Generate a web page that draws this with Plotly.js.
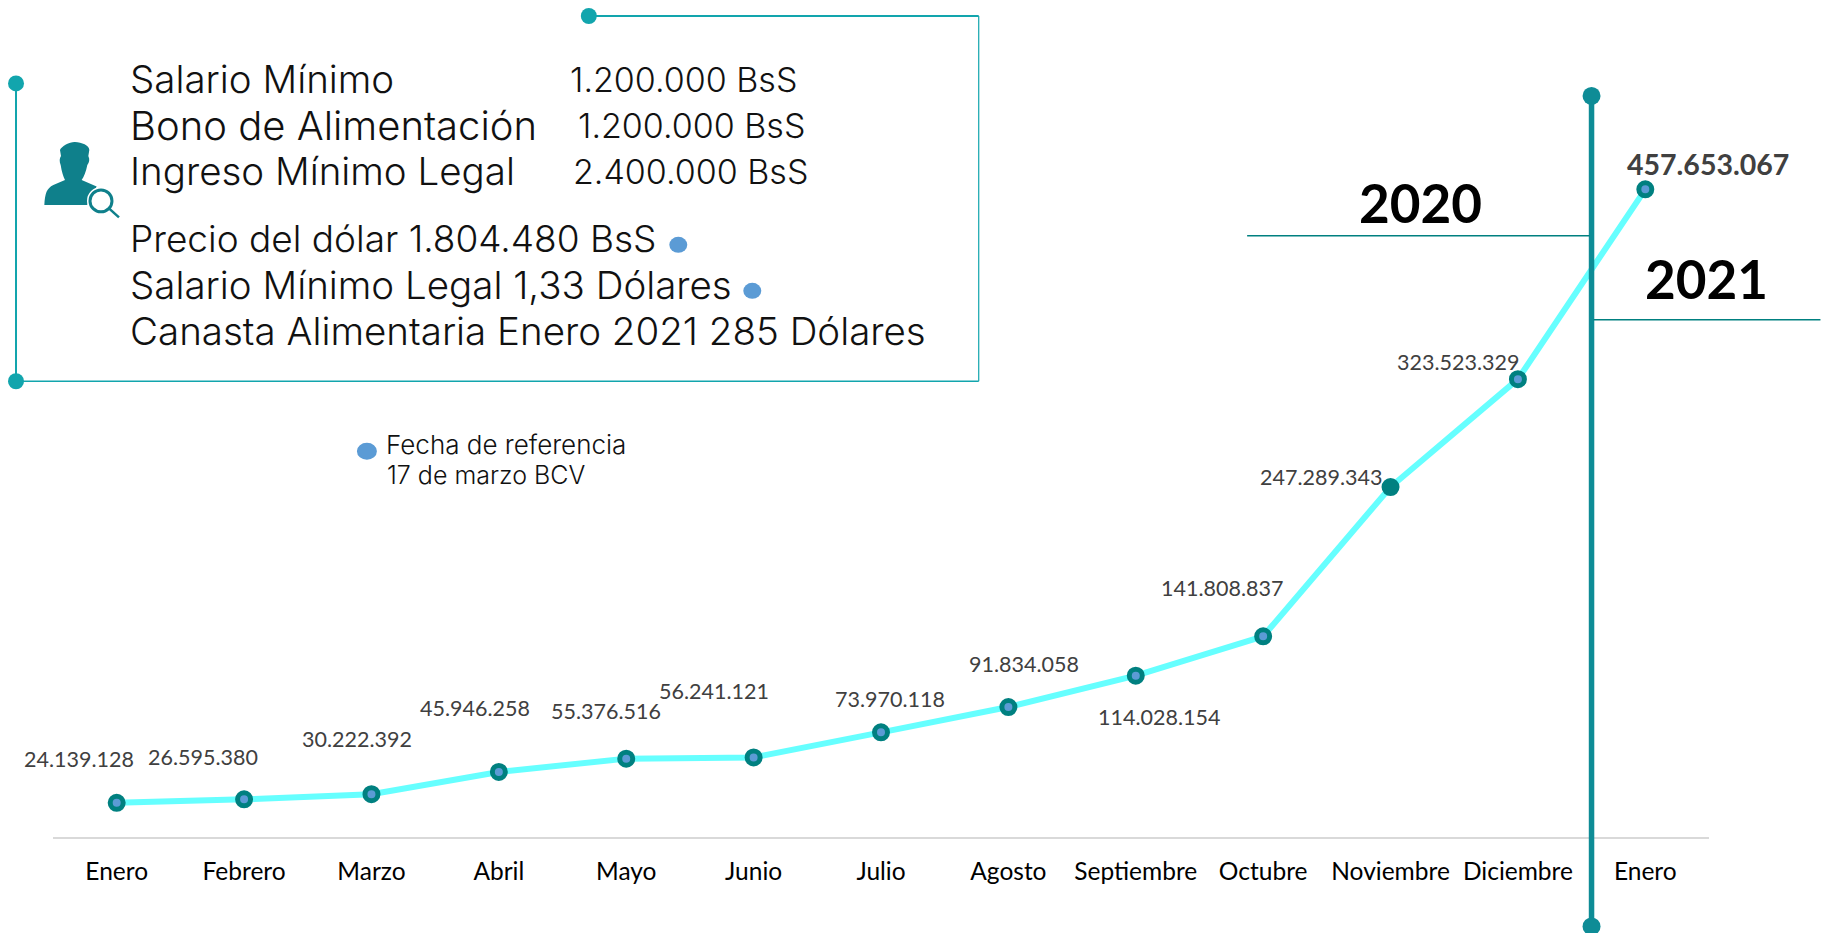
<!DOCTYPE html>
<html>
<head>
<meta charset="utf-8">
<script src="https://cdn.plot.ly/plotly-3.0.1.min.js"></script>
<style>html,body{margin:0;padding:0;background:#fff;overflow:hidden}#chart{width:1821px;height:933px}</style>
</head>
<body>
<div id="chart"></div>
<script>
const months = ["Enero","Febrero","Marzo","Abril","Mayo","Junio","Julio","Agosto","Septiembre","Octubre","Noviembre","Diciembre","Enero"];
const values = [24139128,26595380,30222392,45946258,55376516,56241121,73970118,91834058,114028154,141808837,247289343,323523329,457653067];
const valueLabels = ["24.139.128","26.595.380","30.222.392","45.946.258","55.376.516","56.241.121","73.970.118","91.834.058","114.028.154","141.808.837","247.289.343","323.523.329","457.653.067"];
const labelDx = [-38,-41,-14.5,-24,-20,-39.5,9,16,23,-41,-70,-60,63];
const labelDy = [43.5,42,55,64,48,66,33,43.5,-41,48,10,17,25.5];

const W=1821,H=933,ML=53,MR=111.5,AX=837.5;
const PW=W-ML-MR;
const px=x=>(x-ML)/PW, py=y=>(AX-y)/AX;
const TEAL="#12a5ad", BAR="#0e8c96", DK="#008080", BLUE="#5b9bd5", ICON="#0f808b";

const shapes=[];
const line=(x0,y0,x1,y1,c,w)=>shapes.push({type:"line",xref:"paper",yref:"paper",x0:px(x0),y0:py(y0),x1:px(x1),y1:py(y1),line:{color:c,width:w}});
const oval=(cx,cy,rx,ry,c)=>shapes.push({type:"circle",xref:"paper",yref:"paper",x0:px(cx-rx),x1:px(cx+rx),y0:py(cy-ry),y1:py(cy+ry),fillcolor:c,line:{width:0}});

// information box
line(589,16,979,16,TEAL,2); line(979,16,979,381.5,TEAL,1.2);
line(16,381.5,979,381.5,TEAL,1.5); line(16,83.5,16,381.5,TEAL,2);
oval(589,16,8,8,TEAL); oval(16,83.5,8,8,TEAL); oval(16,381.5,8,8,TEAL);
// reference dots
oval(678.5,245,9,8,BLUE); oval(752.5,291,9,8,BLUE); oval(367,451.5,10,8.5,BLUE);
// year divider
line(1592,96,1592,927,BAR,5.5); oval(1592,96,9,9,BAR); oval(1592,927,9,9,BAR);
line(1247.5,236,1590,236,DK,1.5); line(1594,320,1821,320,DK,1.5);

// person icon, traced in the coordinates of a 3x crop at (30,130)
const Z=(a,b)=>`${px(30+a/3)},${py(130+b/3)}`;
const personPts=[["M",[43,225]],["C",[45,190],[50,175],[70,165]],["L",[105,150]],["C",[100,140],[95,125],[92,105]],
 ["C",[88,95],[88,85],[93,78]],["L",[90,60]],["C",[95,48],[120,35],[135,36]],["C",[155,38],[178,45],[178,60]],["L",[175,78]],
 ["C",[180,88],[178,98],[172,105]],["C",[168,125],[162,140],[155,150]],["L",[200,170]],["L",[172,225]]];
const personPath=personPts.map(p=>p[0]+p.slice(1).map(q=>Z(q[0],q[1])).join(" ")).join(" ")+" Z";
shapes.push({type:"path",xref:"paper",yref:"paper",path:personPath,fillcolor:ICON,line:{width:0}});
oval(101,201,14,14,"#ffffff");
shapes.push({type:"circle",xref:"paper",yref:"paper",x0:px(90),x1:px(112),y0:py(190),y1:py(212),fillcolor:"#ffffff",line:{color:ICON,width:3}});
line(109.5,209,119,217.5,ICON,2.5);

const BOX_FONT="Inter", LABEL_SIZE=38.5, AMOUNT_SIZE=34;
const ann=[];
const txt=(x,y,t,size,opts={})=>ann.push(Object.assign({xref:"paper",yref:"paper",x:px(x),y:py(y),text:t,showarrow:false,xanchor:"left",yanchor:"middle",font:{family:BOX_FONT,size:size,color:"#111111",weight:300}},opts));
txt(128,79,"Salario Mínimo",LABEL_SIZE); txt(568,80,"1.200.000 BsS",AMOUNT_SIZE);
txt(128,126,"Bono de Alimentación",40); txt(576,126,"1.200.000 BsS",AMOUNT_SIZE);
txt(128,171,"Ingreso Mínimo Legal",LABEL_SIZE); txt(571,172,"2.400.000 BsS",AMOUNT_SIZE);
txt(128,239,"Precio del dólar 1.804.480 BsS",37);
txt(128,285,"Salario Mínimo Legal 1,33 Dólares",LABEL_SIZE);
txt(128,331,"Canasta Alimentaria Enero 2021 285 Dólares",LABEL_SIZE);
txt(384,445,"Fecha de referencia",26); txt(385,475,"17 de marzo BCV",25);
const yearFont={family:"Lato",size:53,color:"#000000",weight:700};
ann.push({xref:"paper",yref:"paper",x:px(1421),y:py(203),text:"<b>2020</b>",showarrow:false,xanchor:"center",yanchor:"middle",font:yearFont});
ann.push({xref:"paper",yref:"paper",x:px(1707),y:py(279),text:"<b>2021</b>",showarrow:false,xanchor:"center",yanchor:"middle",font:yearFont});

values.forEach((v,i)=>{
  const last=i===values.length-1;
  ann.push({x:i,y:v,xref:"x",yref:"y",text:last?`<b>${valueLabels[i]}</b>`:valueLabels[i],showarrow:false,
    xanchor:"center",yanchor:"middle",xshift:labelDx[i],yshift:labelDy[i],
    font:{family:"Lato",size:last?28.5:21.5,color:"#404040"}});
});

const positions=months.map((_,i)=>i);
const trace={x:positions,y:values,type:"scatter",mode:"lines+markers",hoverinfo:"skip",
  line:{color:"#66ffff",width:6},
  marker:{size:13,color:values.map((_,i)=>i===10?DK:BLUE),line:{color:DK,width:5}}};
const layout={width:W,height:H,margin:{l:ML,r:MR,t:0,b:H-AX},paper_bgcolor:"#fff",plot_bgcolor:"#fff",showlegend:false,
  xaxis:{range:[-0.5,12.5],tickmode:"array",tickvals:positions,ticktext:months,showgrid:false,zeroline:false,
    showline:true,linecolor:"#d9d9d9",linewidth:2,ticks:"outside",ticklen:12,tickcolor:"rgba(0,0,0,0)",
    tickangle:0,tickfont:{family:"Lato",size:24.5,color:"#000000"}},
  yaxis:{range:[0,AX/1.416*1e6],visible:false,fixedrange:true},
  shapes:shapes,annotations:ann};
Plotly.newPlot("chart",[trace],layout,{displayModeBar:false,responsive:false});
</script>
</body>
</html>
